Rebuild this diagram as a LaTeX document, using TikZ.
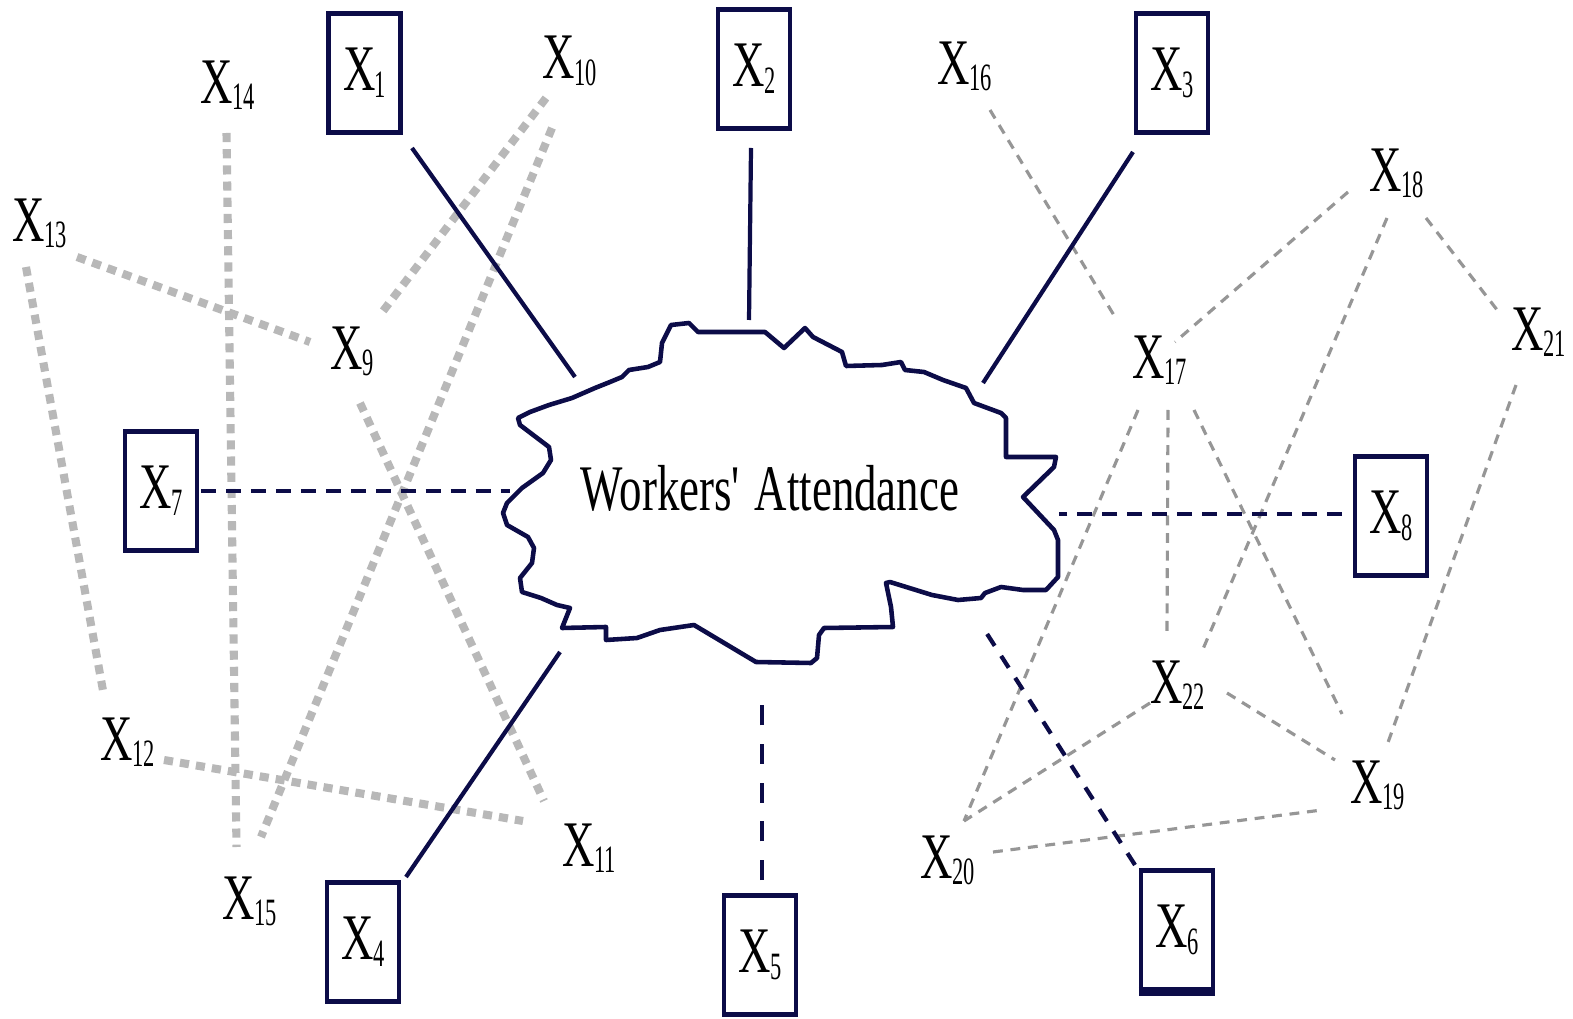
\documentclass[tikz,border=0pt]{standalone}
\usepackage{fontspec}
\newfontfamily\condfont{Liberation Serif}[FakeStretch=0.69]
\newfontfamily\subfont{Liberation Serif}[FakeStretch=0.58]
\definecolor{navy}{RGB}{12,12,72}
\definecolor{lgray}{RGB}{184,184,184}
\definecolor{mgray}{RGB}{150,150,150}
\newcommand{\Xb}[1]{X\kern-0.2pt\lower1.9pt\hbox{\subfont\fontsize{11}{12}\selectfont #1}}
\newcommand{\Xf}[1]{X\rlap{\kern-0.2pt\smash{\lower1.9pt\hbox{\subfont\fontsize{11}{12}\selectfont #1}}}}
\begin{document}
\begin{tikzpicture}[x=0.01cm,y=-0.01cm,
  xbox/.style={draw=navy, line width=1.2pt, minimum width=0.72cm, minimum height=1.19cm, inner sep=0pt, font=\condfont\fontsize{18.5}{20}\selectfont},
  lbl/.style={inner sep=0pt, font=\condfont\fontsize{18.5}{20}\selectfont},
  solidc/.style={navy, line width=1.2pt},
  navdash/.style={navy, line width=1.2pt, dash pattern=on 4.3pt off 2.8pt},
  thickg/.style={lgray, line width=2.3pt, dash pattern=on 2.6pt off 2pt},
  thing/.style={mgray, line width=0.9pt, dash pattern=on 2.8pt off 2.2pt},
  cloudline/.style={draw=navy, fill=white, line width=1.3pt, line join=round}]
\useasboundingbox (0,0) rectangle (1573,1019);

% boxed nodes
\node[xbox] (x1) at (364.5,73) {\Xb{1}};
\node[xbox] (x2) at (754,69) {\Xb{2}};
\node[xbox] (x3) at (1172,73) {\Xb{3}};
\node[xbox] (x7) at (161,491) {\Xb{7}};
\node[xbox] (x8) at (1391,516) {\Xb{8}};
\node[xbox] (x4) at (363,942) {\Xb{4}};
\node[xbox] (x5) at (760,955) {\Xb{5}};
\node[xbox] (x6) at (1177,930) {\Xb{6}};
\draw[navy, line width=2.6pt] (x6.south west) -- (x6.south east);

% plain labels
\node[lbl] (x14) at (216.5,82) {\Xf{14}};
\node[lbl] (x10) at (558.5,57.5) {\Xf{10}};
\node[lbl] (x13) at (29,220) {\Xf{13}};
\node[lbl] (x9) at (347,348) {\Xf{9}};
\node[lbl] (x12) at (117,739) {\Xf{12}};
\node[lbl] (x11) at (579,845) {\Xf{11}};
\node[lbl] (x15) at (239,898) {\Xf{15}};
\node[lbl] (x16) at (954,63) {\Xf{16}};
\node[lbl] (x18) at (1386,170) {\Xf{18}};
\node[lbl] (x17) at (1149,357) {\Xf{17}};
\node[lbl] (x21) at (1528,329) {\Xf{21}};
\node[lbl] (x22) at (1167,682) {\Xf{22}};
\node[lbl] (x19) at (1367,782) {\Xf{19}};
\node[lbl] (x20) at (937,857) {\Xf{20}};

% cloud attachment points
\coordinate (c1) at (575,377);
\coordinate (c2) at (749,320);
\coordinate (c3) at (983,383);
\coordinate (c4) at (560,652);
\coordinate (c7) at (510,491);
\coordinate (c8) at (1059,514);
\coordinate (c5) at (762,702);
\coordinate (c6) at (982,626);

% thick gray (left)
\draw[thickg] ([shift={(10,51)}]x14.center) -- ([shift={(-2.5,-51)}]x15.center);
\draw[thickg] ([shift={(48,37)}]x13.center) -- ([shift={(-37,-6)}]x9.center);
\draw[thickg] ([shift={(-3,47)}]x13.center) -- ([shift={(-13,-43)}]x12.center);
\draw[thickg] ([shift={(-12.5,40.5)}]x10.center) -- ([shift={(33,-33)}]x9.center);
\draw[thickg] ([shift={(-6.5,70.5)}]x10.center) -- ([shift={(22,-61)}]x15.center);
\draw[thickg] ([shift={(13,55)}]x9.center) -- ([shift={(-35,-44)}]x11.center);
\draw[thickg] ([shift={(47,21)}]x12.center) -- ([shift={(-56,-24)}]x11.center);

% thin gray (right)
\draw[thing] ([shift={(36,47)}]x16.center) -- ([shift={(-34,-40)}]x17.center);
\draw[thing] ([shift={(-38,22)}]x18.center) -- ([shift={(26,-15)}]x17.center);
\draw[thing] ([shift={(1,48)}]x18.center) -- ([shift={(36,-33)}]x22.center);
\draw[thing] ([shift={(40,48)}]x18.center) -- ([shift={(-27,-14)}]x21.center);
\draw[thing] ([shift={(-12,56)}]x21.center) -- ([shift={(19,-34)}]x19.center);
\draw[thing] ([shift={(-11,53)}]x17.center) -- ([shift={(27,-36)}]x20.center);
\draw[thing] ([shift={(19,53)}]x17.center) -- ([shift={(0,-48)}]x22.center);
\draw[thing] ([shift={(45,53)}]x17.center) -- ([shift={(-25,-68)}]x19.center);
\draw[thing] ([shift={(-17,21)}]x22.center) -- ([shift={(27,-36)}]x20.center);
\draw[thing] ([shift={(60,11)}]x22.center) -- ([shift={(-32,-22)}]x19.center);
\draw[thing] ([shift={(56,-5)}]x20.center) -- ([shift={(-45,28)}]x19.center);

% cloud
\draw[cloudline] (660,362) -- (662,343) -- (671,325) -- (689,323) -- (698,332) -- (765,332) -- (784,348) -- (805,328) -- (813,337) -- (842,352) -- (846,366) -- (882,365) -- (901,362) -- (905,370) -- (924,372) -- (943,380) -- (966,388) -- (974,403) -- (1001,413) -- (1006,418) -- (1006,457) -- (1056,457) -- (1054,467) -- (1023,497) -- (1054,530) -- (1058,540) -- (1058,577) -- (1046,590) -- (1023,590) -- (1001,587) -- (985,593) -- (981,598) -- (958,600) -- (932,595) -- (890,582) -- (886,583) -- (891,607) -- (893,627) -- (824,628) -- (819,635) -- (817,658) -- (811,663) -- (756,662) -- (694,625) -- (660,630) -- (637,638) -- (606,640) -- (606,627) -- (562,628) -- (570,608) -- (557,605) -- (541,598) -- (522,592) -- (520,578) -- (532,563) -- (534,548) -- (528,537) -- (507,525) -- (503,513) -- (507,503) -- (522,488) -- (543,473) -- (551,460) -- (549,447) -- (520,425) -- (518,418) -- (530,412) -- (549,405) -- (572,398) -- (595,388) -- (610,382) -- (622,377) -- (629,370) -- (648,367) -- cycle;
\node[lbl] (wa) at (770,488) {Workers\textquotesingle\ Attendance};

% solid navy connectors
\draw[solidc] ([shift={(47.5,75)}]x1.center) -- (c1);
\draw[solidc] ([shift={(-3,79)}]x2.center) -- (c2);
\draw[solidc] ([shift={(-39,79)}]x3.center) -- (c3);
\draw[solidc] ([shift={(43,-65)}]x4.center) -- (c4);

% dashed navy connectors
\draw[navdash] ([shift={(40,0)}]x7.center) -- (c7);
\draw[navdash] ([shift={(-49,-2)}]x8.center) -- (c8);
\draw[navdash, dash pattern=on 5.7pt off 5.3pt] ([shift={(2,-75)}]x5.center) -- (c5);
\draw[navdash, dash pattern=on 4pt off 3.4pt] ([shift={(-42,-65)}]x6.center) -- (c6);
\end{tikzpicture}
\end{document}
